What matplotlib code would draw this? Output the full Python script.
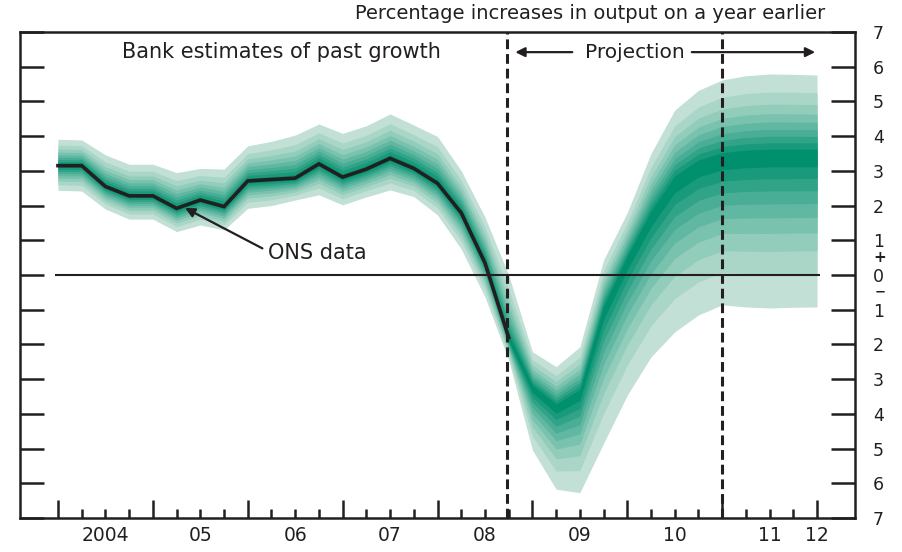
import matplotlib
matplotlib.use("Agg")
import matplotlib.pyplot as plt
import numpy as np

# quarters 2004 Q1 .. 2012 Q1
quarters = [2004 + i / 4 for i in range(33)]

# ONS data (annual GDP growth), 2004 Q1 .. 2008 Q4
ons = [3.15, 3.15, 2.55, 2.28, 2.28, 1.92, 2.16, 1.97, 2.71, 2.75,
       2.79, 3.20, 2.82, 3.05, 3.36, 3.07, 2.64, 1.79, 0.35, -1.8]

# fan: central path and outer (90%) bounds
fan_mid = [3.15, 3.15, 2.55, 2.28, 2.28, 1.92, 2.16, 1.97, 2.71, 2.75,
           2.79, 3.20, 2.82, 3.05, 3.36, 3.07, 2.64, 1.79, 0.35, -1.85,
           -3.25, -3.8, -3.4, -1.0, 0.45, 1.7, 2.7, 3.15, 3.35, 3.42,
           3.45, 3.45, 3.45]
fan_up = [3.91, 3.89, 3.46, 3.19, 3.19, 2.95, 3.07, 3.05, 3.72, 3.85,
          4.03, 4.35, 4.08, 4.30, 4.64, 4.32, 3.99, 3.00, 1.67, 0.0,
          -2.21, -2.64, -2.07, 0.43, 1.8, 3.5, 4.75, 5.32, 5.62, 5.74,
          5.79, 5.78, 5.76]
fan_lo = [2.44, 2.42, 1.90, 1.61, 1.61, 1.25, 1.44, 1.30, 1.92, 2.00,
          2.16, 2.31, 2.02, 2.25, 2.45, 2.26, 1.73, 0.75, -0.63, -2.45,
          -5.04, -6.17, -6.27, -4.85, -3.46, -2.36, -1.64, -1.15, -0.86, -0.92,
          -0.95, -0.93, -0.92]

# share of the outer spread covered by the 10%, 20%, ... 90% bands
band_frac = [0.076, 0.154, 0.234, 0.319, 0.41, 0.512, 0.63, 0.779, 1.0]

year_labels = ["2004", "05", "06", "07", "08", "09", "10", "11", "12"]
year_pos = [2004.5, 2005.5, 2006.5, 2007.5, 2008.5, 2009.5, 2010.5, 2011.5, 2012.0]
right_labels = ["7", "6", "5", "4", "3", "2", "1", "0", "1", "2", "3", "4", "5", "6", "7"]

ink = "#231f20"
plt.rcParams["font.family"] = ["DejaVu Sans"]

fig = plt.figure(figsize=(9.02, 5.52), dpi=100)
ax = fig.add_axes([20 / 902, 34 / 552, 835 / 902, 486 / 552])

# fan colours, light -> dark
light = np.array([194, 224, 213]) / 255
dark = np.array([0, 144, 110]) / 255
cols = [light + (dark - light) * k / 8 for k in range(9)]

x = np.array(quarters)
mid = np.array(fan_mid)
up = np.array(fan_up)
lo = np.array(fan_lo)
for k, f in enumerate(band_frac[::-1]):
    ax.fill_between(x, mid - (mid - lo) * f, mid + (up - mid) * f,
                    color=cols[k], lw=0, zorder=1)

ax.plot(quarters[:len(ons)], ons, color=ink, lw=2.6, zorder=4,
        solid_joinstyle="miter")

ax.hlines(0, 2003.97, 2012.03, color=ink, lw=1.5, zorder=3)
for xv in [2008.73, 2011.0]:
    ax.axvline(xv, color=ink, lw=2.2, ls=(0, (3.2, 1.6)), zorder=5)

ax.set_xlim(2003.6, 2012.4)
ax.set_ylim(-7, 7)

for s in ax.spines.values():
    s.set_linewidth(1.8)
    s.set_color(ink)

ax.set_xticks(np.arange(2004, 2013, 1.0))
ax.set_xticks(quarters, minor=True)
ax.tick_params(axis="x", which="major", direction="in", length=13, width=1.8,
               color=ink, labelbottom=False, bottom=True, top=False)
ax.tick_params(axis="x", which="minor", direction="in", length=6.5, width=1.8,
               color=ink, bottom=True, top=False)

ax.set_yticks(np.arange(7, -8, -1))
ax.set_yticklabels(right_labels)
ax.tick_params(axis="y", direction="in", length=17, width=1.8, color=ink,
               left=True, right=True, labelleft=False, labelright=True,
               pad=13, labelsize=12.5, labelcolor=ink)

for lab, xp in zip(year_labels, year_pos):
    ax.text(xp, -7.5, lab, ha="center", va="center", fontsize=13.5, color=ink)

ax.text(1.03, 0.5, "+", transform=ax.get_yaxis_transform(), ha="center",
        va="center", fontsize=11, color=ink, fontweight="bold")
ax.text(1.03, -0.5, "\u2212", transform=ax.get_yaxis_transform(), ha="center",
        va="center", fontsize=9.5, color=ink, fontweight="bold")

ax.text(2012.09, 7.52, "Percentage increases in output on a year earlier",
        ha="right", va="center", fontsize=14, color=ink)
ax.text(2004.675, 6.42, "Bank estimates of past growth", ha="left",
        va="center", fontsize=15, color=ink)
ax.text(2010.08, 6.42, "Projection", ha="center", va="center", fontsize=14.5,
        color=ink)
ax.annotate("", xy=(2008.82, 6.42), xytext=(2009.42, 6.42),
            arrowprops=dict(arrowstyle="-|>", color=ink, lw=1.6,
                            mutation_scale=14, shrinkA=0, shrinkB=0))
ax.annotate("", xy=(2011.98, 6.42), xytext=(2010.68, 6.42),
            arrowprops=dict(arrowstyle="-|>", color=ink, lw=1.6,
                            mutation_scale=14, shrinkA=0, shrinkB=0))

ax.annotate("ONS data", xy=(2005.34, 1.93), xytext=(2006.21, 0.63),
            ha="left", va="center", fontsize=15, color=ink,
            arrowprops=dict(arrowstyle="-|>", color=ink, lw=1.6,
                            mutation_scale=14, shrinkA=2, shrinkB=0,
                            relpos=(0, 0.6)))

fig.savefig("out.png", dpi=100)
